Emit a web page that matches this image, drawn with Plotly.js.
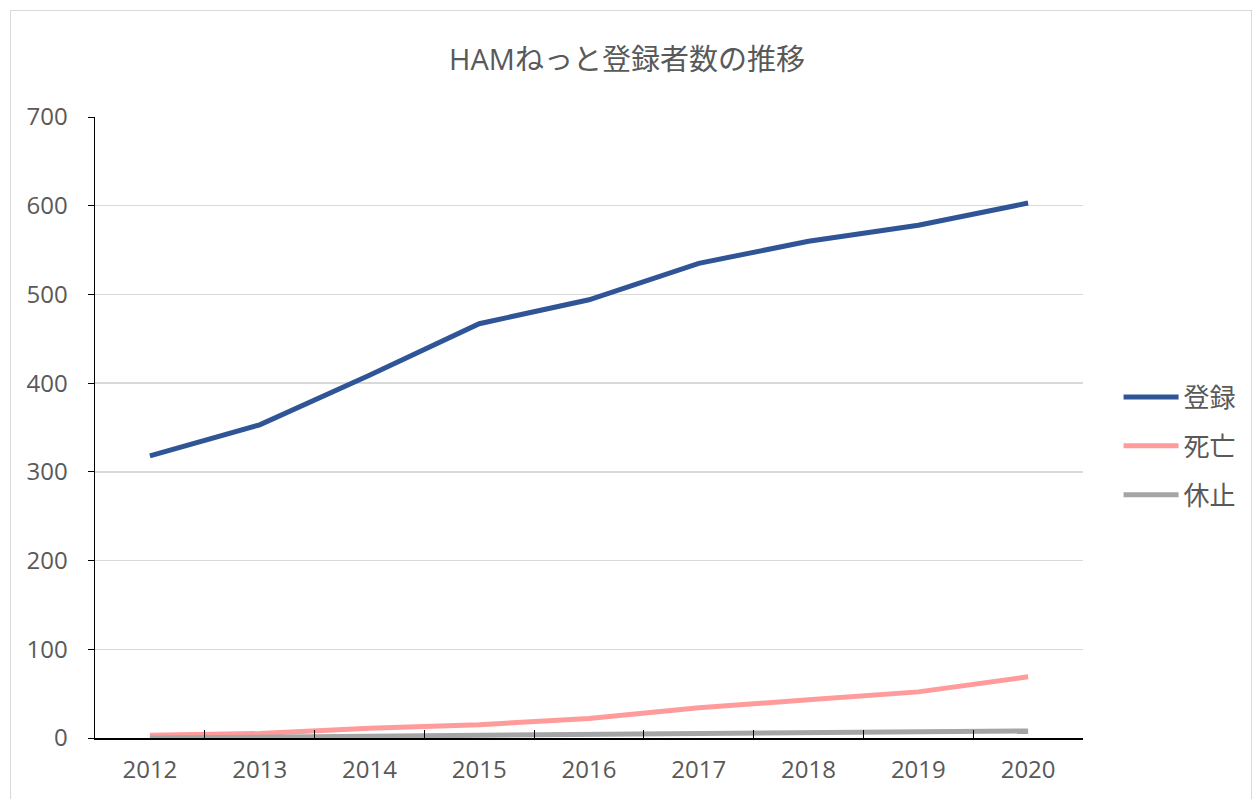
<!DOCTYPE html>
<html><head><meta charset="utf-8">
<script src="https://cdn.plot.ly/plotly-3.0.1.min.js"></script>
<style>
html,body{margin:0;padding:0;background:#fff;}
#wrap{position:relative;width:1254px;height:799px;}
#chart{width:1254px;height:799px;}
#frame{position:absolute;left:10px;top:10px;width:1240px;height:800px;border:1px solid #d9d9d9;pointer-events:none;}
</style></head>
<body>
<div id="wrap"><div id="chart"></div><div id="frame"></div></div>
<script>
const years = ['2012','2013','2014','2015','2016','2017','2018','2019','2020'];
const registered = [318, 353, 409, 467, 494, 535, 560, 578, 603];
const deceased = [3, 5, 11, 15, 22, 34, 43, 52, 69];
const suspended = [0, 1, 2, 2, 4, 5, 6, 7, 8];
const seriesNames = ['登録','死亡','休止'];
const colors = ['#2F5597','#FF9B9B','#A5A5A5'];

const font = "'Open Sans', 'Noto Sans CJK JP', sans-serif";
const traces = [registered, deceased, suspended].map((v,i)=>({
  x: years, y: v, type:'scatter', mode:'lines', name: seriesNames[i],
  legendgroup: 'g'+i,
  line:{color:colors[i], width:5}
}));

const layout = {
  width:1254, height:799,
  margin:{l:95, r:169, t:117, b:61},
  paper_bgcolor:'#fff', plot_bgcolor:'#fff',
  font:{family:font, color:'#595959', size:24},
  title:{text:'HAMねっと登録者数の推移', font:{family:font, size:29, color:'#595959'}, x:0.5, xanchor:'center', y:0.925, yanchor:'middle'},
  xaxis:{type:'category', range:[-0.5,8.5], showgrid:false, showline:true, linecolor:'#000', linewidth:1.5,
    ticks:'inside', tickson:'boundaries', ticklen:8, tickcolor:'#000', tickwidth:1,
    tickfont:{family:font, size:24, color:'#595959'}, ticklabelstandoff:10, zeroline:false},
  yaxis:{range:[0,700], dtick:100, showgrid:true, gridcolor:'#d9d9d9', gridwidth:1.5, showline:true, linecolor:'#000', linewidth:1.5,
    ticks:'outside', ticklen:6, tickcolor:'#000', tickwidth:1, zeroline:false,
    tickfont:{family:font, size:24, color:'#595959'}, ticklabelstandoff:15},
  legend:{x:1.036, xanchor:'left', y:0.47, yanchor:'middle', font:{family:font, size:26, color:'#595959'},
    traceorder:'grouped', tracegroupgap:12, itemwidth:55, bgcolor:'rgba(0,0,0,0)'},
  showlegend:true
};
Plotly.newPlot('chart', traces, layout, {displayModeBar:false, staticPlot:true});
</script>
</body></html>
